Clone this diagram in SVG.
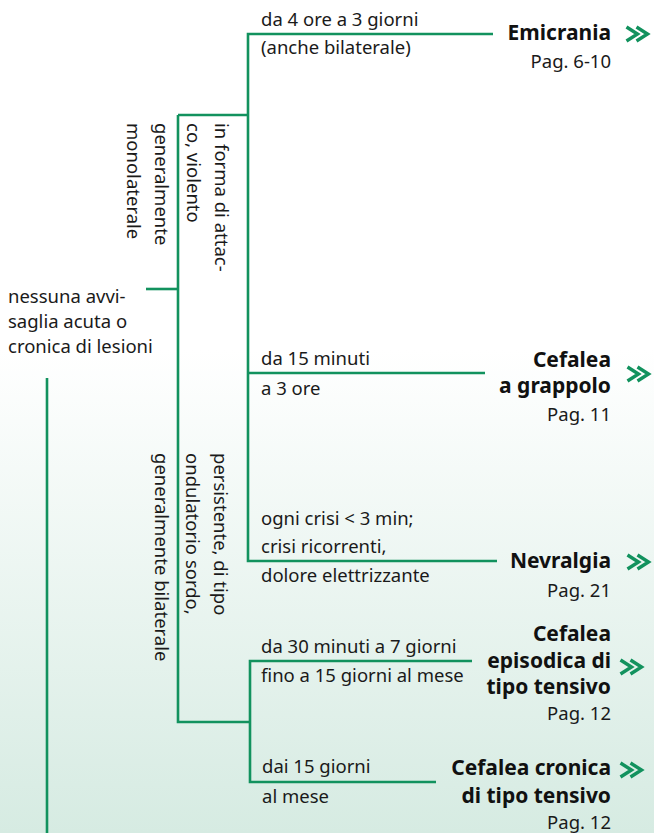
<svg xmlns="http://www.w3.org/2000/svg" width="654" height="833" viewBox="0 0 654 833">
<defs>
<linearGradient id="bg" x1="0" y1="0" x2="0" y2="1">
<stop offset="0" stop-color="#ffffff"/>
<stop offset="0.42" stop-color="#ffffff"/>
<stop offset="1" stop-color="#d6ebe2"/>
</linearGradient>
<path id="chev" d="M-12.5,-7 L-1.5,0 L-12.5,7 M-2.5,-7 L8.5,0 L-2.5,7" fill="none" stroke="#12925e" stroke-width="3.4"/>
</defs>
<style>
.t{font-family:"Noto Sans","Open Sans",sans-serif;font-size:18.5px;fill:#1a1a1a}
.b{font-family:"Noto Sans","Open Sans",sans-serif;font-size:21px;font-weight:bold;fill:#111;text-anchor:end}
.p{font-family:"Noto Sans","Open Sans",sans-serif;font-size:18.5px;fill:#1a1a1a;text-anchor:end}
.ln{fill:none;stroke:#12925e;stroke-width:2.6}
</style>
<rect x="0" y="0" width="654" height="833" fill="url(#bg)"/>
<g id="connectors">
<path class="ln" d="M146,289 H178"/>
<path class="ln" d="M178,115 V722 H250"/>
<path class="ln" d="M178,115 H248"/>
<path class="ln" d="M493,34 H248 V561 H497"/>
<path class="ln" d="M248,373 H485"/>
<path class="ln" d="M472,661 H250 V782 H436"/>
<path class="ln" d="M47,378 V833"/>
</g>
<g id="root">
<text class="t" x="8" y="303">nessuna avvi-</text>
<text class="t" x="8" y="328">saglia acuta o</text>
<text class="t" x="8" y="353">cronica di lesioni</text>
</g>
<g id="monolaterale">
<text class="t" transform="translate(155,123) rotate(90)">generalmente</text>
<text class="t" transform="translate(127,123) rotate(90)">monolaterale</text>
</g>
<g id="bilaterale">
<text class="t" transform="translate(155,453) rotate(90)">generalmente bilaterale</text>
</g>
<g id="attacco">
<text class="t" transform="translate(215,123) rotate(90)">in forma di attac-</text>
<text class="t" transform="translate(187,123) rotate(90)">co, violento</text>
</g>
<g id="persistente">
<text class="t" transform="translate(214,453) rotate(90)">persistente, di tipo</text>
<text class="t" transform="translate(186,453) rotate(90)">ondulatorio sordo,</text>
</g>
<g id="emicrania">
<text class="t" x="261" y="26">da 4 ore a 3 giorni</text>
<text class="t" x="261" y="54">(anche bilaterale)</text>
<text class="b" x="611" y="40">Emicrania</text>
<text class="p" x="611" y="68">Pag. 6-10</text>
<use href="#chev" x="639" y="34"/>
</g>
<g id="grappolo">
<text class="t" x="261" y="365">da 15 minuti</text>
<text class="t" x="261" y="395">a 3 ore</text>
<text class="b" x="611" y="367">Cefalea</text>
<text class="b" x="611" y="393">a grappolo</text>
<text class="p" x="611" y="421">Pag. 11</text>
<use href="#chev" x="640" y="374"/>
</g>
<g id="nevralgia">
<text class="t" x="261" y="525">ogni crisi &lt; 3 min;</text>
<text class="t" x="261" y="553">crisi ricorrenti,</text>
<text class="t" x="261" y="582">dolore elettrizzante</text>
<text class="b" x="611" y="568">Nevralgia</text>
<text class="p" x="611" y="597">Pag. 21</text>
<use href="#chev" x="640" y="562"/>
</g>
<g id="episodica">
<text class="t" x="261" y="653">da 30 minuti a 7 giorni</text>
<text class="t" x="261" y="682">fino a 15 giorni al mese</text>
<text class="b" x="611" y="641">Cefalea</text>
<text class="b" x="611" y="668">episodica di</text>
<text class="b" x="611" y="694">tipo tensivo</text>
<text class="p" x="611" y="720">Pag. 12</text>
<use href="#chev" x="633" y="667"/>
</g>
<g id="cronica">
<text class="t" x="262" y="773">dai 15 giorni</text>
<text class="t" x="262" y="803">al mese</text>
<text class="b" x="611" y="775">Cefalea cronica</text>
<text class="b" x="611" y="803">di tipo tensivo</text>
<text class="p" x="611" y="829">Pag. 12</text>
<use href="#chev" x="633" y="770"/>
</g>
</svg>
